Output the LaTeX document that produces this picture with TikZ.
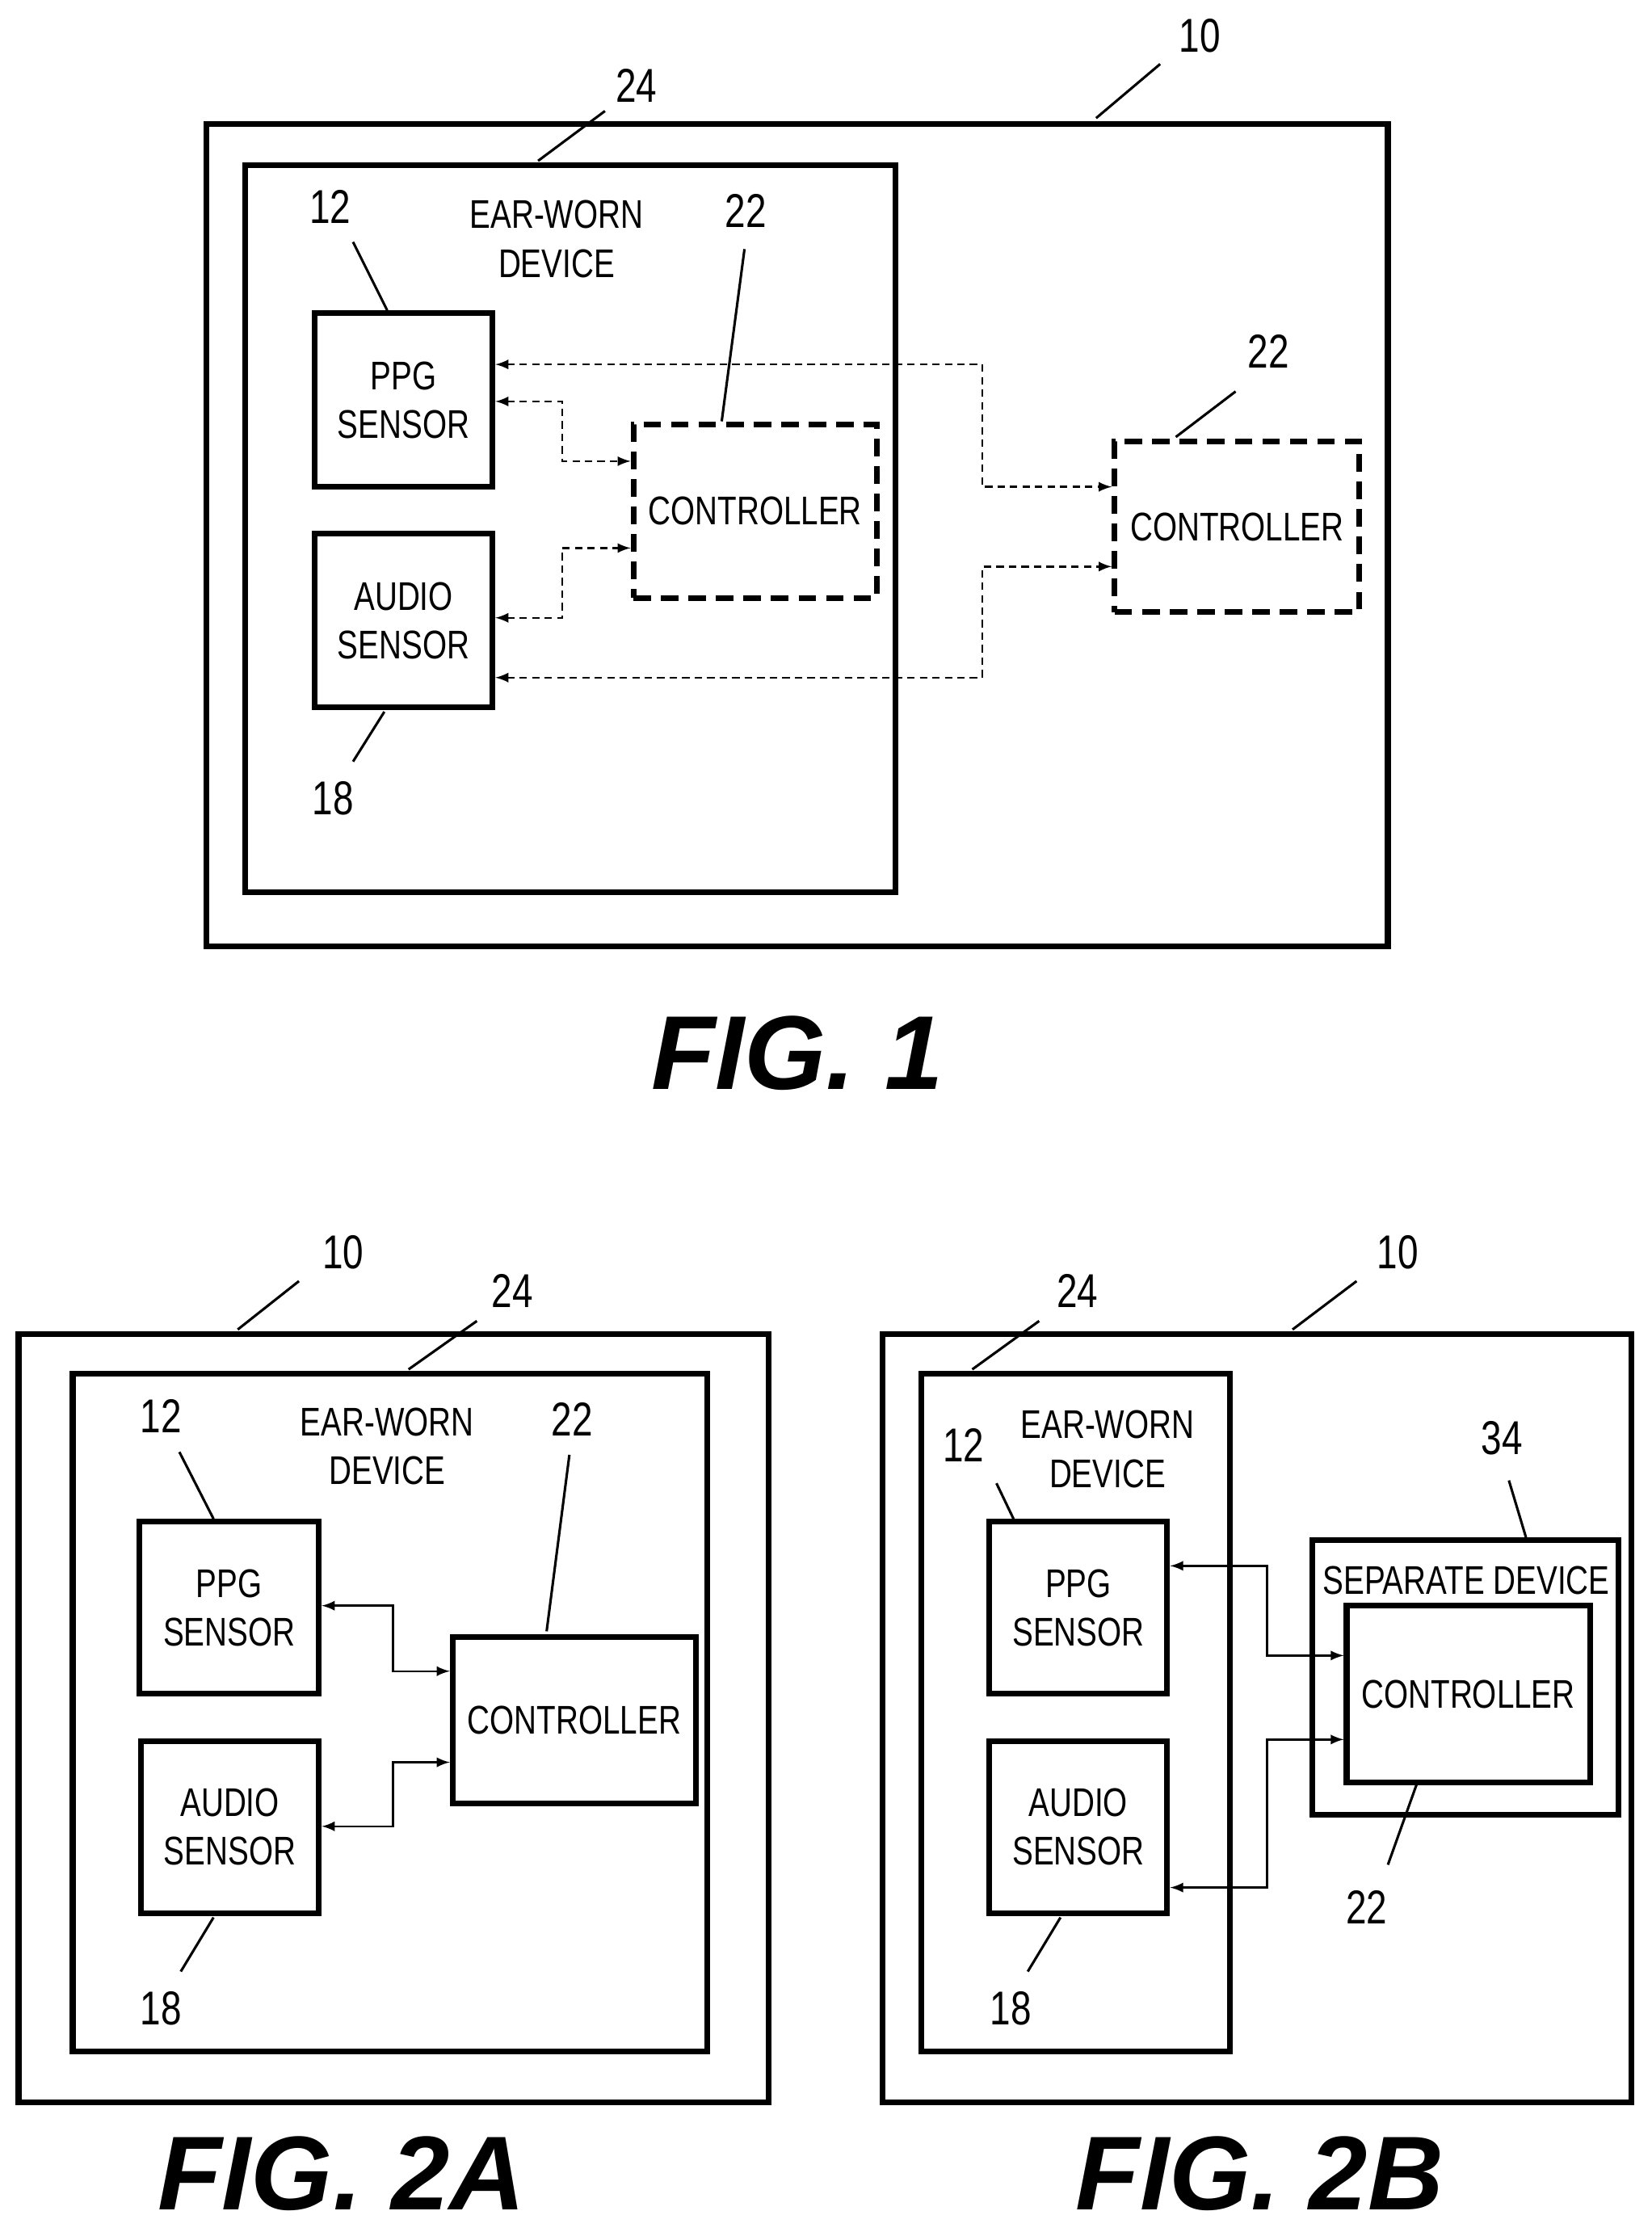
\documentclass[tikz,border=0pt]{standalone}
\usepackage{fontspec}
\setmainfont{Liberation Sans}
\newfontfamily\narrowsf[FakeStretch=0.78]{Liberation Sans}
\usetikzlibrary{positioning,arrows}
\tikzset{
	every picture/.style={/utils/exec={\narrowsf}},
	every node/.style = {font=\fontsize{16}{19.5}\selectfont\narrowsf, inner sep = 0},
	box/.style = {draw, line width=2.3pt, align=center},
	dbox/.style = {box, dashed, dash pattern=on 7pt off 4pt},
	num/.style = {font=\fontsize{19}{22}\selectfont\narrowsf},
	fig/.style = {font=\fontsize{42}{46}\selectfont\rmfamily\bfseries\itshape},
	lead/.style = {line width=1pt},
	dlink/.style = {<->, >=latex, densely dashed, line width=0.8pt},
	link/.style = {<->, >=latex, line width=0.8pt}
}

\begin{document}
\begin{tikzpicture}[x=0.02cm, y=-0.02cm]
	\useasboundingbox (0,0) rectangle (1160,1568);
	
	% FIG. 1
	\node[box, minimum width=16.6cm, minimum height=11.56cm] (sys1) at (560,376) {};
	\node[box, minimum width=9.14cm, minimum height=10.22cm] (ear1) at (400.5,371.5) {};
	\node[box, minimum width=2.5cm, minimum height=2.44cm] (ppg1) at (283.5,281) {PPG\\SENSOR};
	\node[box, minimum width=2.5cm, minimum height=2.44cm] (aud1) at (283.5,436) {AUDIO\\SENSOR};
	\node[dbox, minimum width=3.42cm, minimum height=2.44cm] (ctrlA1) at (530.5,359) {CONTROLLER};
	\node[dbox, minimum width=3.44cm, minimum height=2.4cm] (ctrlB1) at (869,370) {CONTROLLER};
	\node[align=center] (earlbl1) at (391,168) {EAR-WORN\\DEVICE};
	
	\draw[dlink] (ppg1.east |- 0,256) -| (690,300) |- (ctrlB1.west |- 0,342);
	\draw[dlink] (ppg1.east |- 0,282) -| (395,300) |- (ctrlA1.west |- 0,324);
	\draw[dlink] (aud1.east |- 0,434) -| (395,400) |- (ctrlA1.west |- 0,385);
	\draw[dlink] (aud1.east |- 0,476) -| (690,430) |- (ctrlB1.west |- 0,398);
	
	\node[num] (n10a) at (843,25) {10};
	\node[num] (n24a) at (447,60) {24};
	\node[num] (n12a) at (232,145) {12};
	\node[num] (n22a) at (524,148) {22};
	\node[num] (n22b) at (891,247) {22};
	\node[num] (n18a) at (234,561) {18};
	\draw[lead] (770,83) -- (815,45);
	\draw[lead] (378,113) -- (425,78);
	\draw[lead] (272,218) -- (248,170);
	\draw[lead] (507,296) -- (523,175);
	\draw[lead] (826,307) -- (868,275);
	\draw[lead] (270,500) -- (248,535);
	\node[fig] (fig1) at (560,740) {FIG. 1};
	
	% FIG. 2A
	\node[box, minimum width=10.54cm, minimum height=10.8cm] (sys2) at (276.5,1207) {};
	\node[box, minimum width=8.92cm, minimum height=9.52cm] (ear2) at (274,1203) {};
	\node[box, minimum width=2.52cm, minimum height=2.42cm] (ppg2) at (161,1129.5) {PPG\\SENSOR};
	\node[box, minimum width=2.5cm, minimum height=2.42cm] (aud2) at (161.5,1283.5) {AUDIO\\SENSOR};
	\node[box, minimum width=3.42cm, minimum height=2.34cm] (ctrl2) at (403.5,1208.5) {CONTROLLER};
	\node[align=center] (earlbl2) at (272,1016) {EAR-WORN\\DEVICE};
	\draw[link] (ppg2.east |- 0,1128) -| (276,1150) |- (ctrl2.west |- 0,1174);
	\draw[link] (aud2.east |- 0,1283) -| (276,1260) |- (ctrl2.west |- 0,1238);
	
	\node[num] (n10b) at (241,880) {10};
	\node[num] (n24b) at (360,907) {24};
	\node[num] (n12b) at (113,995) {12};
	\node[num] (n22c) at (402,997) {22};
	\node[num] (n18b) at (113,1411) {18};
	\draw[lead] (167,934) -- (210,900);
	\draw[lead] (287,962) -- (335,928);
	\draw[lead] (150,1067) -- (126,1020);
	\draw[lead] (384,1146) -- (400,1022);
	\draw[lead] (150,1347) -- (127,1385);
	\node[fig] (fig2a) at (240,1527) {FIG. 2A};
	
	% FIG. 2B
	\node[box, minimum width=10.52cm, minimum height=10.8cm] (sys3) at (883,1207) {};
	\node[box, minimum width=4.34cm, minimum height=9.52cm] (ear3) at (755.5,1203) {};
	\node[box, minimum width=2.5cm, minimum height=2.42cm] (ppg3) at (757.5,1129.5) {PPG\\SENSOR};
	\node[box, minimum width=2.5cm, minimum height=2.42cm] (aud3) at (757.5,1283.5) {AUDIO\\SENSOR};
	\node[box, minimum width=4.3cm, minimum height=3.86cm] (sep3) at (1029.5,1178.5) {};
	\node (seplbl3) at (1030,1110) {SEPARATE DEVICE};
	\node[box, minimum width=3.42cm, minimum height=2.48cm] (ctrl3) at (1031.5,1190) {CONTROLLER};
	\node[align=center] (earlbl3) at (778,1018) {EAR-WORN\\DEVICE};
	\draw[link] (ppg3.east |- 0,1100) -| (890,1130) |- (ctrl3.west |- 0,1163);
	\draw[link] (aud3.east |- 0,1326) -| (890,1260) |- (ctrl3.west |- 0,1222);
	
	\node[num] (n10c) at (982,880) {10};
	\node[num] (n24c) at (757,907) {24};
	\node[num] (n12c) at (677,1015) {12};
	\node[num] (n34) at (1055,1010) {34};
	\node[num] (n22d) at (960,1340) {22};
	\node[num] (n18c) at (710,1411) {18};
	\draw[lead] (908,934) -- (953,900);
	\draw[lead] (683,962) -- (730,928);
	\draw[lead] (712,1067) -- (700,1042);
	\draw[lead] (1072,1080) -- (1060,1040);
	\draw[lead] (995,1254) -- (975,1310);
	\draw[lead] (745,1347) -- (722,1385);
	\node[fig] (fig2b) at (885,1527) {FIG. 2B};
\end{tikzpicture}
\end{document}
